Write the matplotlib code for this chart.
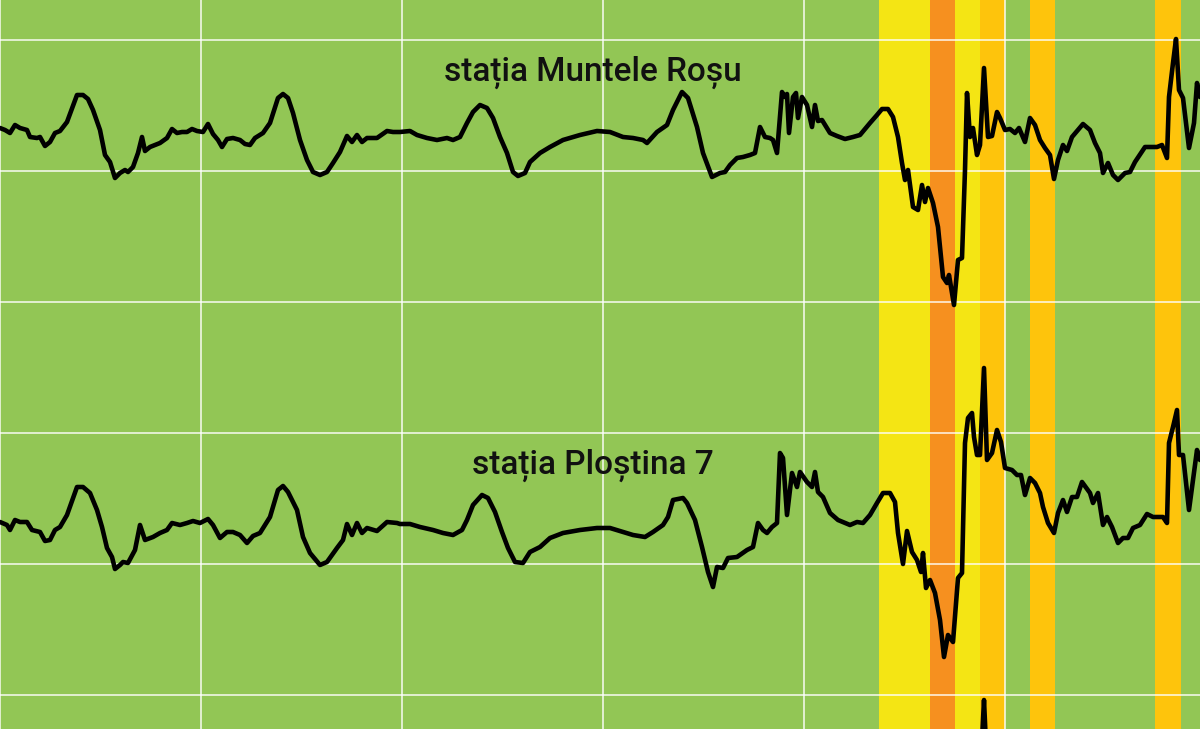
import numpy as np
import matplotlib.pyplot as plt

# station labels
labels = ["stația Muntele Roșu", "stația Ploștina 7"]

# trace 1 - Muntele Rosu (x = sample, y = screen level, grows downward)
t1_x = [0, 5, 10, 15, 20, 27, 30, 37, 40, 45, 50, 55, 60, 67, 77, 83, 88, 93, 100, 105,
        110, 115, 120, 125, 128, 133, 138, 142, 145, 150, 155, 160, 167, 172, 177, 182, 187, 192, 197, 203,
        208, 213, 218, 222, 227, 233, 240, 245, 250, 255, 263, 270, 278, 283, 288, 293, 300, 307, 313, 320,
        327, 333, 340, 347, 352, 357, 362, 367, 377, 387, 393, 400, 410, 417, 427, 437, 447, 453, 460, 467,
        473, 480, 487, 493, 500, 507, 513, 518, 525, 530, 540, 550, 563, 580, 597, 610, 623, 633, 643, 647,
        657, 667, 673, 682, 688, 697, 703, 712, 720, 725, 730, 737, 743, 750, 755, 760, 765, 770, 773, 777,
        782, 785, 787, 789, 793, 796, 798, 802, 807, 812, 815, 818, 822, 830, 837, 845, 853, 860, 870, 877,
        882, 888, 893, 898, 902, 905, 908, 913, 918, 922, 925, 928, 933, 938, 943, 947, 949, 954, 958, 962,
        965, 967, 970, 973, 977, 980, 984, 988, 992, 997, 1000, 1005, 1010, 1015, 1019, 1025, 1030, 1035, 1040, 1045,
        1050, 1054, 1058, 1063, 1067, 1072, 1078, 1083, 1090, 1095, 1100, 1103, 1108, 1113, 1118, 1125, 1130, 1135, 1145, 1157,
        1162, 1167, 1169, 1173, 1176, 1179, 1183, 1189, 1194, 1197, 1200]
t1_y = [128, 130, 133, 125, 128, 130, 137, 138, 137, 146, 142, 133, 131, 122, 95, 95, 99, 110, 130, 155,
        162, 178, 173, 170, 172, 167, 153, 137, 151, 147, 145, 143, 138, 129, 133, 132, 132, 129, 131, 132,
        124, 134, 140, 147, 139, 138, 140, 144, 145, 138, 133, 123, 98, 94, 98, 113, 140, 160, 172, 175,
        172, 163, 152, 136, 142, 135, 142, 138, 138, 131, 132, 132, 131, 135, 138, 140, 138, 140, 137, 123,
        112, 105, 108, 118, 137, 153, 172, 176, 173, 162, 153, 147, 140, 135, 131, 132, 137, 138, 140, 143,
        132, 125, 110, 92, 98, 127, 153, 177, 173, 172, 165, 158, 157, 155, 153, 127, 137, 138, 140, 153,
        92, 97, 94, 133, 97, 93, 118, 97, 105, 127, 105, 121, 120, 133, 136, 139, 137, 135, 123, 115,
        109, 109, 117, 137, 163, 180, 170, 207, 210, 185, 202, 188, 203, 227, 277, 283, 275, 305, 260, 258,
        170, 93, 137, 128, 155, 145, 68, 137, 136, 112, 118, 130, 129, 133, 128, 142, 118, 125, 140, 148,
        155, 179, 160, 145, 151, 137, 130, 124, 130, 143, 153, 173, 163, 175, 180, 173, 172, 162, 147, 147,
        145, 158, 97, 63, 39, 90, 98, 148, 123, 83, 97]

# trace 2 - Plostina 7
t2_x = [0, 7, 10, 15, 20, 27, 32, 40, 45, 50, 55, 60, 67, 77, 83, 90, 97, 102, 107, 112,
        115, 120, 123, 128, 135, 140, 145, 153, 160, 167, 172, 180, 187, 193, 200, 208, 213, 220, 227, 233,
        240, 247, 253, 260, 270, 278, 283, 288, 297, 303, 310, 320, 327, 337, 343, 347, 352, 357, 362, 367,
        377, 387, 397, 400, 410, 420, 433, 443, 453, 462, 467, 473, 482, 488, 495, 502, 508, 515, 523, 530,
        540, 550, 563, 580, 597, 610, 623, 633, 645, 653, 663, 668, 673, 678, 683, 687, 695, 702, 708, 713,
        717, 723, 728, 737, 747, 753, 758, 763, 767, 772, 777, 780, 783, 787, 792, 797, 800, 807, 812, 815,
        818, 823, 830, 838, 850, 857, 863, 870, 877, 883, 890, 895, 898, 903, 907, 912, 917, 921, 923, 926,
        930, 935, 940, 944, 948, 953, 958, 962, 965, 968, 972, 974, 977, 980, 984, 987, 992, 997, 1001, 1005,
        1012, 1017, 1021, 1025, 1030, 1035, 1040, 1043, 1048, 1054, 1058, 1063, 1067, 1072, 1077, 1082, 1090, 1093, 1098, 1103,
        1107, 1112, 1118, 1123, 1128, 1133, 1140, 1147, 1153, 1163, 1167, 1169, 1173, 1177, 1179, 1183, 1189, 1197, 1200]
t2_y = [522, 525, 530, 520, 522, 522, 530, 532, 541, 540, 530, 527, 515, 487, 487, 493, 510, 527, 548, 557,
        569, 565, 562, 563, 550, 525, 540, 537, 533, 530, 523, 525, 523, 521, 523, 519, 525, 538, 532, 532,
        535, 543, 536, 533, 517, 490, 486, 492, 510, 537, 553, 565, 562, 548, 540, 524, 535, 523, 533, 528,
        531, 522, 523, 524, 524, 527, 530, 533, 535, 530, 520, 505, 495, 498, 512, 532, 548, 562, 563, 552,
        547, 538, 533, 530, 528, 528, 532, 535, 537, 532, 525, 517, 500, 499, 498, 503, 520, 547, 572, 587,
        567, 568, 558, 557, 550, 547, 523, 530, 533, 527, 523, 453, 458, 515, 473, 487, 472, 482, 487, 472,
        492, 497, 513, 520, 525, 522, 523, 515, 503, 493, 493, 502, 533, 564, 531, 552, 560, 572, 553, 588,
        580, 593, 620, 657, 635, 642, 578, 573, 443, 418, 413, 437, 455, 455, 368, 460, 453, 430, 442, 468,
        470, 475, 475, 495, 478, 483, 493, 507, 523, 533, 513, 500, 512, 497, 497, 482, 493, 503, 493, 525,
        517, 527, 543, 538, 538, 528, 525, 514, 517, 517, 523, 443, 427, 410, 455, 455, 510, 450, 460]

# trace 3 - only the top of one spike shows at the bottom edge
t3_x = [970, 978, 982, 984, 986, 990, 998]
t3_y = [770, 760, 740, 700, 745, 765, 775]

# alert bands (start, end, level)
band_start = [879, 930, 955, 980, 1030, 1155]
band_end = [930, 955, 980, 1005, 1055, 1181]
band_level = ["yellow", "orange", "yellow", "gold", "gold", "gold"]
level_colors = {"yellow": "#f4e514", "orange": "#f6901f", "gold": "#fec40c"}

fig = plt.figure(figsize=(12, 7.29), dpi=100)
ax = fig.add_axes([0, 0, 1, 1])
ax.set_facecolor("#92c655")

for s, e, lvl in zip(band_start, band_end, band_level):
    ax.axvspan(s, e, color=level_colors[lvl], lw=0, zorder=1)

for xs, ys in [(t1_x, t1_y), (t2_x, t2_y), (t3_x, t3_y)]:
    ax.plot(xs, ys, color="black", lw=3.3, zorder=3,
            solid_joinstyle="round", solid_capstyle="round")

ax.text(593, 72, labels[0], ha="center", va="center", fontsize=24,
        family="Roboto", weight="medium", color="#111111", zorder=4)
ax.text(593, 465, labels[1], ha="center", va="center", fontsize=24,
        family="Roboto", weight="medium", color="#111111", zorder=4)

ax.set_xlim(0, 1200)
ax.set_ylim(729, 0)
ax.set_xticks(np.arange(0, 1200, 201))
ax.set_yticks(np.arange(40, 729, 131))
ax.grid(True, color="white", lw=1.2, alpha=0.85)
ax.set_axisbelow("line")
ax.tick_params(length=0, labelbottom=False, labelleft=False)
for sp in ax.spines.values():
    sp.set_visible(False)

fig.savefig("out.png", dpi=100)
